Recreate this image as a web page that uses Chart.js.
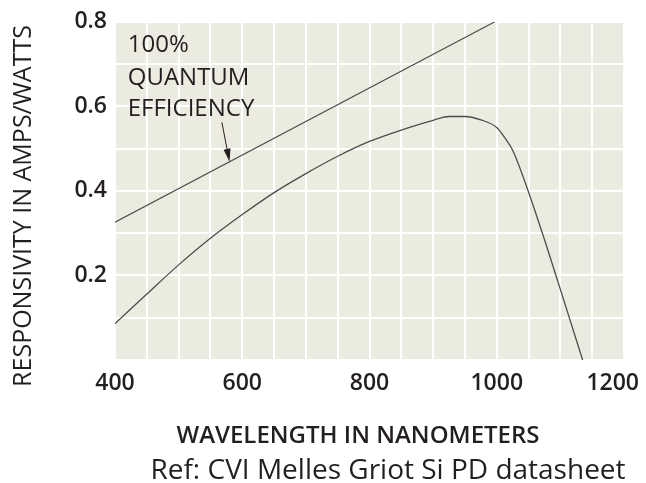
<!DOCTYPE html>
<html>
<head>
<meta charset="utf-8">
<script src="https://cdn.jsdelivr.net/npm/chart.js@4"></script>
<style>
  html, body { margin: 0; padding: 0; background: #fff; }
  #wrap { width: 646px; height: 483px; }
</style>
</head>
<body>
<div id="wrap"><canvas id="myChart"></canvas></div>
<script>
// silicon photodiode responsivity (A/W) vs wavelength (nm)
const pdWavelength = [400, 450, 500, 550, 600, 650, 700, 750, 800, 850, 900, 925, 950, 975, 1000, 1012, 1025, 1050, 1075, 1100, 1135];
const pdResponsivity = [0.086, 0.156, 0.225, 0.288, 0.344, 0.396, 0.441, 0.482, 0.517, 0.544, 0.567, 0.576, 0.576, 0.568, 0.55, 0.527, 0.496, 0.397, 0.285, 0.167, 0];

// ideal 100% quantum efficiency line
const qeWavelength = [400, 997];
const qeResponsivity = [0.326, 0.8];

const xTickLabels = [400, 600, 800, 1000, 1200];
const yTickLabels = ["0.2", "0.4", "0.6", "0.8"];

const xTitle = "WAVELENGTH IN NANOMETERS";
const yTitle = "RESPONSIVITY IN AMPS/WATTS";
const refNote = "Ref: CVI Melles Griot Si PD datasheet";
const qeNote = ["100%", "QUANTUM", "EFFICIENCY"];

const toPoints = (xs, ys) => xs.map((x, i) => ({ x: x, y: ys[i] }));

const textColor = "#231f20";
const lineColor = "#4d4d4d";
const tickFont = "600 23px 'Open Sans'";

const plotBg = {
  id: "plotBg",
  beforeDraw(chart) {
    const { ctx, chartArea: a } = chart;
    ctx.save();
    ctx.fillStyle = "#ecebdf";
    ctx.fillRect(a.left, a.top, a.right - a.left, a.bottom - a.top);
    ctx.restore();
  }
};

const labels = {
  id: "labels",
  afterDraw(chart) {
    const { ctx, scales, chartArea } = chart;
    const xs = scales.x, ys = scales.y;
    ctx.save();
    ctx.fillStyle = textColor;
    ctx.textBaseline = "alphabetic";

    // x tick labels, last one kept inside the canvas
    ctx.font = tickFont;
    ctx.textAlign = "center";
    xTickLabels.forEach(v => {
      const t = String(v);
      const half = ctx.measureText(t).width / 2;
      const px = Math.min(xs.getPixelForValue(v), chart.width - half - 7);
      ctx.fillText(t, px, chartArea.bottom + 30);
    });

    // annotation text
    ctx.font = "400 24px 'Open Sans'";
    ctx.textAlign = "left";
    const noteY = [0.729, 0.651, 0.577];
    qeNote.forEach((t, i) => ctx.fillText(t, xs.getPixelForValue(420), ys.getPixelForValue(noteY[i])));

    // arrow onto the QE line
    const slope = (qeResponsivity[1] - qeResponsivity[0]) / (qeWavelength[1] - qeWavelength[0]);
    const x0 = xs.getPixelForValue(568), y0 = ys.getPixelForValue(0.562);
    const x1 = xs.getPixelForValue(580), y1 = ys.getPixelForValue(qeResponsivity[0] + (580 - qeWavelength[0]) * slope);
    const ang = Math.atan2(y1 - y0, x1 - x0);
    ctx.strokeStyle = textColor;
    ctx.lineWidth = 1;
    ctx.beginPath();
    ctx.moveTo(x0, y0);
    ctx.lineTo(x1 - 10 * Math.cos(ang), y1 - 10 * Math.sin(ang));
    ctx.stroke();
    ctx.beginPath();
    ctx.moveTo(x1, y1);
    ctx.lineTo(x1 - 13 * Math.cos(ang) + 3.5 * Math.sin(ang), y1 - 13 * Math.sin(ang) - 3.5 * Math.cos(ang));
    ctx.lineTo(x1 - 13 * Math.cos(ang) - 3.5 * Math.sin(ang), y1 - 13 * Math.sin(ang) + 3.5 * Math.cos(ang));
    ctx.closePath();
    ctx.fill();

    // axis titles
    ctx.textAlign = "center";
    ctx.font = "600 24px 'Open Sans'";
    ctx.fillText(xTitle, 358, 443);
    ctx.save();
    ctx.translate(31, 206);
    ctx.rotate(-Math.PI / 2);
    ctx.font = "500 25px 'Open Sans'";
    ctx.fillText(yTitle, 0, 0);
    ctx.restore();

    ctx.font = "400 28px 'Open Sans'";
    ctx.fillText(refNote, 388, 479);
    ctx.restore();
  }
};

const config = {
  type: "line",
  data: {
    datasets: [
      {
        label: "Si photodiode",
        data: toPoints(pdWavelength, pdResponsivity),
        borderColor: lineColor,
        borderWidth: 1.3,
        cubicInterpolationMode: "monotone",
        pointRadius: 0,
        fill: false
      },
      {
        label: "100% quantum efficiency",
        data: toPoints(qeWavelength, qeResponsivity),
        borderColor: lineColor,
        borderWidth: 1.2,
        pointRadius: 0,
        fill: false
      }
    ]
  },
  options: {
    responsive: true,
    maintainAspectRatio: false,
    animation: false,
    layout: { padding: { left: 0, top: 20, right: 22, bottom: 0 } },
    plugins: { legend: { display: false }, tooltip: { enabled: false } },
    scales: {
      x: {
        type: "linear",
        min: 400,
        max: 1200,
        afterFit(scale) {
          scale.height = 123;
          scale.paddingRight = 0;
          scale.paddingLeft = 0;
        },
        border: { display: false },
        grid: { color: "#ffffff", lineWidth: 2, drawTicks: false },
        // labels are drawn by the "labels" plugin
        ticks: { stepSize: 50, autoSkip: false, maxRotation: 0, callback: () => "" }
      },
      y: {
        min: 0,
        max: 0.8,
        afterFit(scale) { scale.width = 115; },
        border: { display: false },
        grid: { color: "#ffffff", lineWidth: 2, drawTicks: false },
        ticks: {
          stepSize: 0.1,
          autoSkip: false,
          padding: 8,
          color: textColor,
          font: { family: "'Open Sans'", size: 23, weight: 600 },
          callback: v => {
            const s = (Math.round(v * 10) / 10).toFixed(1);
            return yTickLabels.includes(s) ? s : "";
          }
        }
      }
    }
  },
  plugins: [plotBg, labels]
};

const myChart = new Chart(document.getElementById("myChart"), config);
</script>
</body>
</html>
